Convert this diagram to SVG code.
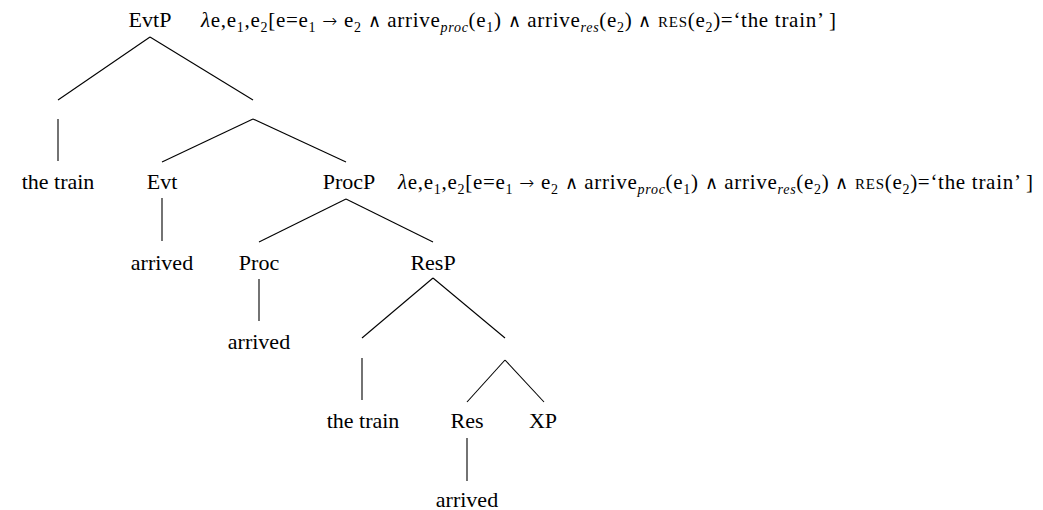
<svg xmlns="http://www.w3.org/2000/svg" width="1043" height="510" viewBox="0 0 1043 510">
<style>
.n{font-family:"Liberation Serif","Times New Roman",serif;font-size:22px;fill:#000;text-anchor:middle}
.f{font-family:"Liberation Serif","Times New Roman",serif;font-size:21px;fill:#000}
.s{font-size:14px}
.i{font-style:italic}
.sc{font-size:15px}
.w{font-family:"DejaVu Sans",sans-serif;font-weight:200;font-size:18px}
.c line{stroke:#000;stroke-width:1.1}
</style>
<rect width="1043" height="510" fill="#fff"/>
<g class="c" id="connectors">
<line x1="150" y1="37" x2="58" y2="100"/>
<line x1="150" y1="37" x2="253" y2="100"/>
<line x1="58" y1="119" x2="58" y2="161"/>
<line x1="253" y1="119" x2="162" y2="162"/>
<line x1="253" y1="119" x2="346" y2="162"/>
<line x1="162" y1="198" x2="162" y2="241"/>
<line x1="346" y1="199" x2="259" y2="242"/>
<line x1="346" y1="199" x2="433" y2="242"/>
<line x1="259" y1="279" x2="259" y2="321"/>
<line x1="433" y1="278" x2="362" y2="338"/>
<line x1="433" y1="278" x2="505" y2="338"/>
<line x1="362" y1="358" x2="362" y2="400"/>
<line x1="505" y1="360" x2="467" y2="402"/>
<line x1="505" y1="360" x2="544" y2="402"/>
<line x1="467" y1="438" x2="467" y2="481"/>
</g>
<g id="evtp"><text class="n" x="150" y="27">EvtP</text></g>
<g id="evtp-sem"><text class="f" x="201" y="27" textLength="635" lengthAdjust="spacing"><tspan class="i">λ</tspan>e,e<tspan class="s" dy="5">1</tspan><tspan dy="-5">,e</tspan><tspan class="s" dy="5">2</tspan><tspan dy="-5">[e=e</tspan><tspan class="s" dy="5">1</tspan><tspan dy="-5"> </tspan><tspan class="w">→</tspan> e<tspan class="s" dy="5">2</tspan><tspan dy="-5"> </tspan><tspan class="w">∧</tspan> arrive<tspan class="s i" dy="5">proc</tspan><tspan dy="-5">(e</tspan><tspan class="s" dy="5">1</tspan><tspan dy="-5">) </tspan><tspan class="w">∧</tspan> arrive<tspan class="s i" dy="5">res</tspan><tspan dy="-5">(e</tspan><tspan class="s" dy="5">2</tspan><tspan dy="-5">) </tspan><tspan class="w">∧</tspan> <tspan class="sc">RES</tspan>(e<tspan class="s" dy="5">2</tspan><tspan dy="-5">)=‘the train’ ]</tspan></text></g>
<g id="the-train-1"><text class="n" x="58" y="189">the train</text></g>
<g id="evt"><text class="n" x="162" y="189">Evt</text></g>
<g id="procp"><text class="n" x="349" y="189">ProcP</text></g>
<g id="procp-sem"><text class="f" x="398" y="189" textLength="635" lengthAdjust="spacing"><tspan class="i">λ</tspan>e,e<tspan class="s" dy="5">1</tspan><tspan dy="-5">,e</tspan><tspan class="s" dy="5">2</tspan><tspan dy="-5">[e=e</tspan><tspan class="s" dy="5">1</tspan><tspan dy="-5"> </tspan><tspan class="w">→</tspan> e<tspan class="s" dy="5">2</tspan><tspan dy="-5"> </tspan><tspan class="w">∧</tspan> arrive<tspan class="s i" dy="5">proc</tspan><tspan dy="-5">(e</tspan><tspan class="s" dy="5">1</tspan><tspan dy="-5">) </tspan><tspan class="w">∧</tspan> arrive<tspan class="s i" dy="5">res</tspan><tspan dy="-5">(e</tspan><tspan class="s" dy="5">2</tspan><tspan dy="-5">) </tspan><tspan class="w">∧</tspan> <tspan class="sc">RES</tspan>(e<tspan class="s" dy="5">2</tspan><tspan dy="-5">)=‘the train’ ]</tspan></text></g>
<g id="arrived-1"><text class="n" x="162" y="270">arrived</text></g>
<g id="proc"><text class="n" x="259" y="270">Proc</text></g>
<g id="resp"><text class="n" x="433" y="270">ResP</text></g>
<g id="arrived-2"><text class="n" x="259" y="349">arrived</text></g>
<g id="the-train-2"><text class="n" x="363" y="428">the train</text></g>
<g id="res"><text class="n" x="467" y="428">Res</text></g>
<g id="xp"><text class="n" x="543" y="428">XP</text></g>
<g id="arrived-3"><text class="n" x="467" y="507">arrived</text></g>
</svg>
